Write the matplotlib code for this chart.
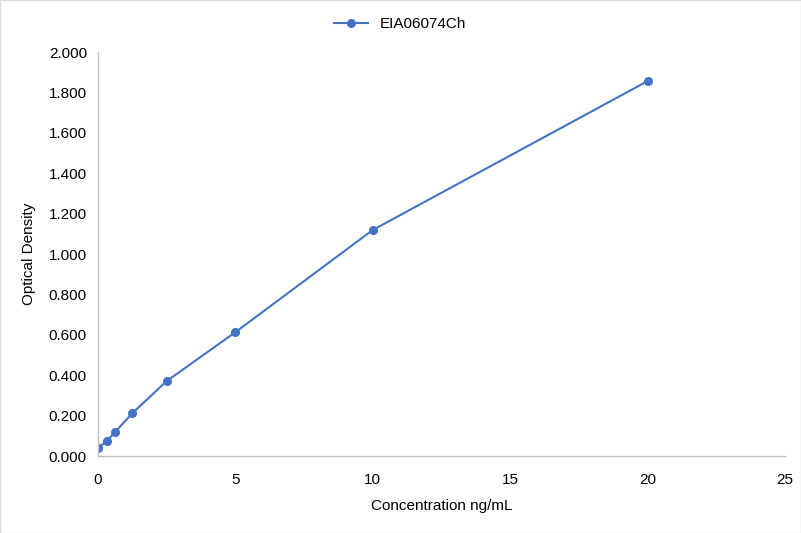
import matplotlib.pyplot as plt
from matplotlib.ticker import FormatStrFormatter

conc = [0, 0.3125, 0.625, 1.25, 2.5, 5, 10, 20]
od = [0.040, 0.073, 0.119, 0.212, 0.371, 0.613, 1.119, 1.856]
series_name = 'EIA06074Ch'

plt.rcParams['font.family'] = ['Liberation Sans', 'DejaVu Sans']

fig = plt.figure(figsize=(8.01, 5.33), dpi=100)
ax = fig.add_axes([98 / 801, 1 - 456 / 533, (785 - 98) / 801, (456 - 52) / 533])

blue = '#4472C4'
ax.plot(conc, od, color=blue, lw=1.5, marker='o', ms=5.5, label=series_name)

ax.set_xlim(0, 25)
ax.set_ylim(0, 2.0)
ax.set_xticks(range(0, 26, 5))
ax.set_yticks([i * 0.2 for i in range(11)])
ax.yaxis.set_major_formatter(FormatStrFormatter('%.3f'))
ax.tick_params(length=0, labelsize=11, colors='#000000')
ax.tick_params(axis='x', pad=12)
ax.tick_params(axis='y', pad=8)

for s in ['top', 'right']:
    ax.spines[s].set_visible(False)
for s in ['left', 'bottom']:
    ax.spines[s].set_color('#BFBFBF')
    ax.spines[s].set_linewidth(1)

ax.set_xlabel('Concentration ng/mL', fontsize=11, labelpad=9)
ax.set_ylabel('Optical Density', fontsize=11, labelpad=9)

fig.legend(loc='upper center', bbox_to_anchor=(0.5, 0.993), frameon=False,
           fontsize=11, handlelength=2.2)

fig.patches.append(plt.Rectangle((0, 0), 1, 1, transform=fig.transFigure,
                                 fill=False, edgecolor='#D9D9D9', lw=1))

fig.savefig('out.png', dpi=100)
